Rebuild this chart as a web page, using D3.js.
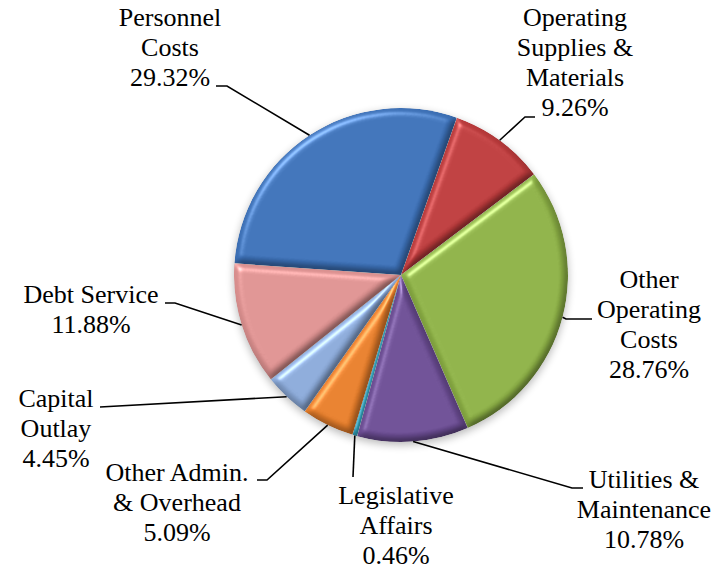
<!DOCTYPE html>
<html>
<head>
<meta charset="utf-8">
<script src="https://cdn.jsdelivr.net/npm/d3@7"></script>
<style>
  html, body { margin: 0; padding: 0; background: #ffffff; }
  svg { display: block; }
</style>
</head>
<body>
<svg id="chart" width="723" height="569"></svg>
<script>
// Budget shares by category (percent of total)
const categories = [
  "Personnel Costs",
  "Operating Supplies & Materials",
  "Other Operating Costs",
  "Utilities & Maintenance",
  "Legislative Affairs",
  "Other Admin. & Overhead",
  "Capital Outlay",
  "Debt Service"
];
const values = [29.32, 9.26, 28.76, 10.78, 0.46, 5.09, 4.45, 11.88];
const labelLines = [
  ["Personnel", "Costs"],
  ["Operating", "Supplies &", "Materials"],
  ["Other", "Operating", "Costs"],
  ["Utilities &", "Maintenance"],
  ["Legislative", "Affairs"],
  ["Other Admin.", "& Overhead"],
  ["Capital", "Outlay"],
  ["Debt Service"]
];
const colors = ["#3a6db2", "#b7393a", "#88ab43", "#684a8f", "#2b8ea6", "#e07a29", "#86a4d2", "#d78d8c"];

// Label placement: text centre x, first baseline y, leader elbow and leader end
const layout = [
  { x: 170, y: 26,  elbow: [227, 86],  end: [216, 86] },
  { x: 575, y: 26,  elbow: [525, 117], end: [535, 117] },
  { x: 649, y: 288, elbow: [566, 319], end: [592, 319] },
  { x: 644, y: 488, elbow: [572, 488], end: [583, 488] },
  { x: 396, y: 504, elbow: [353, 477], end: [353, 477] },
  { x: 177, y: 481, elbow: [267, 480], end: [257, 480] },
  { x: 56,  y: 407, elbow: [100, 407], end: [100, 407] },
  { x: 91,  y: 303, elbow: [175, 303], end: [165, 303] }
];

const cx = 401, cy = 275, R = 167, lineH = 30;
const svg = d3.select("#chart");
const defs = svg.append("defs");

// Bevel: lighting from a blurred alpha height map
const bevel = defs.append("filter").attr("id", "bevel")
  .attr("color-interpolation-filters", "sRGB")
  .attr("x", "-10%").attr("y", "-10%").attr("width", "120%").attr("height", "120%");
bevel.append("feGaussianBlur").attr("in", "SourceAlpha").attr("stdDeviation", 3.5).attr("result", "blur");
const spec = bevel.append("feSpecularLighting").attr("in", "blur")
  .attr("surfaceScale", 5).attr("specularConstant", 0.8).attr("specularExponent", 22)
  .attr("lighting-color", "#ffffff").attr("result", "spec");
spec.append("feDistantLight").attr("azimuth", 235).attr("elevation", 40);
bevel.append("feComposite").attr("in", "spec").attr("in2", "SourceAlpha").attr("operator", "in").attr("result", "specIn");
const diff = bevel.append("feDiffuseLighting").attr("in", "blur")
  .attr("surfaceScale", 5).attr("diffuseConstant", 1.3).attr("lighting-color", "#ffffff").attr("result", "diff");
diff.append("feDistantLight").attr("azimuth", 235).attr("elevation", 50);
bevel.append("feComposite").attr("in", "SourceGraphic").attr("in2", "diff")
  .attr("operator", "arithmetic").attr("k1", 0.4).attr("k2", 0.6).attr("k3", 0).attr("result", "shaded");
bevel.append("feComposite").attr("in", "shaded").attr("in2", "specIn")
  .attr("operator", "arithmetic").attr("k2", 1).attr("k3", 0.45).attr("result", "lit");
bevel.append("feComposite").attr("in", "lit").attr("in2", "SourceAlpha").attr("operator", "in");

// Soft shadow under the pie
const shadow = defs.append("filter").attr("id", "shadow")
  .attr("x", "-20%").attr("y", "-20%").attr("width", "140%").attr("height", "140%");
shadow.append("feGaussianBlur").attr("stdDeviation", 4);

const pie = d3.pie().sort(null).value(d => d)
  .startAngle(-86 * Math.PI / 180).endAngle(-86 * Math.PI / 180 + 2 * Math.PI);
const arcs = pie(values);
const arc = d3.arc().innerRadius(0).outerRadius(R);

const g = svg.append("g").attr("transform", `translate(${cx},${cy})`);
g.append("circle").attr("cx", 0).attr("cy", 3).attr("r", R)
  .attr("fill", "#000").attr("opacity", 0.28).attr("filter", "url(#shadow)");

g.selectAll("path.slice").data(arcs).enter().append("path")
  .attr("class", "slice")
  .attr("d", arc)
  .attr("fill", (d, i) => colors[i])
  .attr("filter", "url(#bevel)");

// Leader lines from each slice's outer mid-point to its label
const leaders = svg.append("g").attr("fill", "none").attr("stroke", "#000").attr("stroke-width", 1.6);
arcs.forEach((d, i) => {
  const a = (d.startAngle + d.endAngle) / 2;
  const p = [cx + R * Math.sin(a), cy - R * Math.cos(a)];
  const L = layout[i];
  leaders.append("path").attr("d", d3.line()([p, L.elbow, L.end]));
});

// Category labels with their percentage
const labels = svg.append("g");
arcs.forEach((d, i) => {
  const lines = labelLines[i].concat([d3.format(".2f")(values[i]) + "%"]);
  const t = labels.append("text")
    .attr("x", layout[i].x).attr("y", layout[i].y)
    .style("font-family", '"Liberation Serif"')
    .style("font-size", "26px")
    .style("text-anchor", "middle")
    .style("fill", "#000");
  lines.forEach((s, j) => {
    t.append("tspan").attr("x", layout[i].x).attr("y", layout[i].y + j * lineH).text(s);
  });
});
</script>
</body>
</html>
